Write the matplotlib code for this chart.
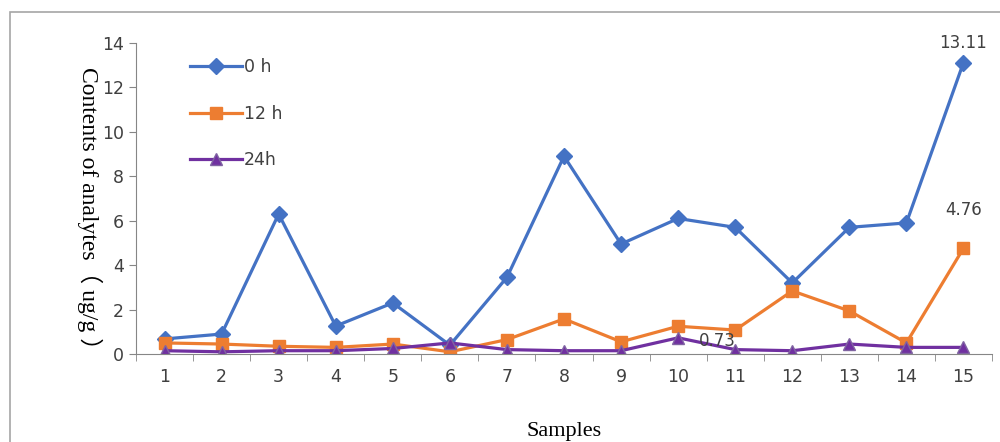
import matplotlib
matplotlib.use("Agg")
import matplotlib.pyplot as plt
from matplotlib.patches import Rectangle
import numpy as np

samples = list(range(1, 16))
h0 = [0.68, 0.9, 6.3, 1.26, 2.3, 0.4, 3.45, 8.9, 4.95, 6.1, 5.7, 3.2, 5.7, 5.9, 13.11]
h12 = [0.5, 0.45, 0.35, 0.3, 0.45, 0.1, 0.65, 1.58, 0.55, 1.25, 1.08, 2.84, 1.94, 0.5, 4.76]
h24 = [0.15, 0.1, 0.15, 0.15, 0.25, 0.5, 0.2, 0.15, 0.15, 0.73, 0.2, 0.15, 0.45, 0.3, 0.3]
yticks = [0, 2, 4, 6, 8, 10, 12, 14]

fig = plt.figure(figsize=(10, 4.42), dpi=100)
fig.patches.append(Rectangle((0.010, -0.05), 1.2, 1.05 - 0.0226 - 0.005, transform=fig.transFigure,
                             fill=False, edgecolor="#a6a6a6", linewidth=1.2))
ax = fig.add_axes([0.136, 0.199, 0.856, 0.704])

ax.plot(samples, h0, color="#4472C4", marker="D", markersize=8, linewidth=2.3, label="0 h")
ax.plot(samples, h12, color="#ED7D31", marker="s", markersize=8, linewidth=2.3, label="12 h")
ax.plot(samples, h24, color="#7030A0", marker="^", markersize=8, markerfacecolor="#7030A0",
        markeredgecolor="#8064A2", linewidth=2.3, label="24h")

ax.set_xlim(0.5, 15.5)
ax.set_ylim(0, 14)
ax.set_yticks(yticks)
ax.set_xticks(samples)
ax.set_xticks(np.arange(0.5, 16, 1), minor=True)
ax.tick_params(axis="x", which="major", length=0, pad=10, labelsize=12.5, colors="#404040")
ax.tick_params(axis="x", which="minor", length=5, color="#868686", direction="out")
ax.tick_params(axis="y", length=5, color="#868686", labelsize=12.5, labelcolor="#404040")
for s in ["top", "right"]:
    ax.spines[s].set_visible(False)
for s in ["left", "bottom"]:
    ax.spines[s].set_color("#868686")

ax.annotate(f"{h0[-1]:.2f}", (samples[-1], h0[-1]), xytext=(0, 8), textcoords="offset points",
            ha="center", va="bottom", fontsize=12, color="#404040")
ax.annotate(f"{h12[-1]:.2f}", (samples[-1], h12[-1]), xytext=(0, 21), textcoords="offset points",
            ha="center", va="bottom", fontsize=12, color="#404040")
ax.annotate(f"{h24[9]:.2f}", (samples[9], h24[9]), xytext=(15, -2), textcoords="offset points",
            ha="left", va="center", fontsize=12, color="#404040")

ax.set_xlabel("Samples", family=["Liberation Serif"], fontsize=16, labelpad=26)
ax.set_ylabel("Contents of analytes\uff08 ug/g \uff09", family=["Liberation Serif", "Noto Sans CJK SC"],
              fontsize=17, rotation=270, va="bottom")
ax.yaxis.set_label_coords(-0.069, 0.45)

leg = ax.legend(loc="upper left", bbox_to_anchor=(0.045, 1.0), frameon=False, fontsize=12.5,
                handlelength=3.0, handletextpad=0.1, labelspacing=1.62, labelcolor="#404040")

fig.savefig("out.png", dpi=100)
